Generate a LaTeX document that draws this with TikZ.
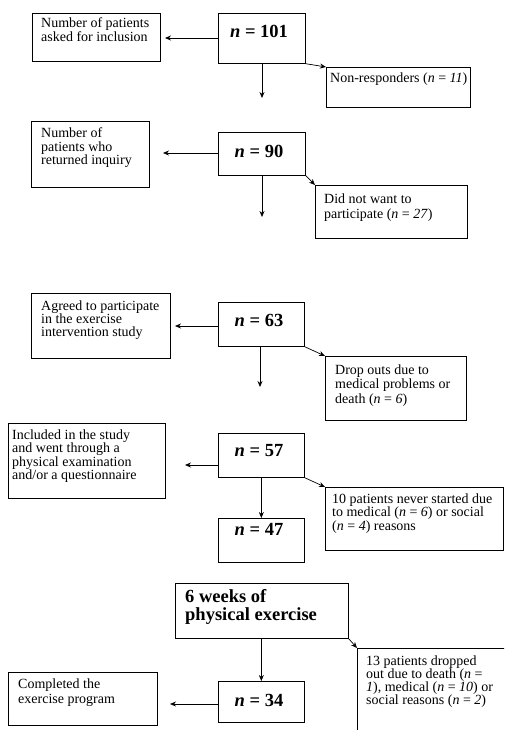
\documentclass[tikz,border=0pt]{standalone}
\usepackage{fontspec}
\setmainfont{Liberation Serif}
\usetikzlibrary{arrows.meta}
% lines of a box text, set with a fixed distance between baselines
\newcommand\stacklines[2][13.5pt]{\vtop{\baselineskip=#1\lineskiplimit=-\maxdimen\halign{##\hfil\cr#2\crcr}}}

\begin{document}
\begin{tikzpicture}[x=1pt,y=-1pt,
  panel/.style={draw=black, line width=0.7pt, inner sep=0pt, anchor=north west},
  txt/.style={inner sep=0pt, anchor=base west, font=\fontsize{14}{14}\selectfont},
  num/.style={inner sep=0pt, anchor=base, font=\fontsize{18.5}{18.5}\selectfont\bfseries},
  link/.style={line width=0.7pt, -{Stealth[length=6pt,width=5pt]}}]
\clip (0,0) rectangle (504,730);
\fill[white] (0,0) rectangle (504,730);

% ---- step 1
\node[panel, minimum width=128pt, minimum height=48pt] (ask) at (32,13) {};
\node[txt] (ask-t) at (41,28) {\stacklines{Number of patients\cr asked for inclusion}};
\node[panel, minimum width=87pt, minimum height=50pt] (n101) at (218,13) {};
\node[num] (n101-t) at (259,38) {\textit{n} = 101};
\node[panel, minimum width=144pt, minimum height=40pt] (nonresp) at (326,67) {};
\node[txt] (nonresp-t) at (330,83) {Non-responders (\textit{n} = \textit{11})};
\coordinate (tip1) at (165,38);
\coordinate (down1) at (262,98);
\draw[link] (n101.west |- tip1) -- (tip1);
\draw[link] (n101.south -| down1) -- (down1);
\draw[link] (n101.south east) -- (nonresp.north west);

% ---- step 2
\node[panel, minimum width=118pt, minimum height=66pt] (returned) at (31,121) {};
\node[txt] (returned-t) at (41,138) {\stacklines{Number of\cr patients who\cr returned inquiry}};
\node[panel, minimum width=87pt, minimum height=43pt] (n90) at (218,132) {};
\node[num] (n90-t) at (259,158) {\textit{n} = 90};
\node[panel, minimum width=152pt, minimum height=53pt] (didnot) at (315,185) {};
\node[txt] (didnot-t) at (324,203) {\stacklines[15pt]{Did not want to\cr participate (\textit{n} = \textit{27})}};
\coordinate (tip2) at (163,153);
\coordinate (down2) at (262,217);
\draw[link] (n90.west |- tip2) -- (tip2);
\draw[link] (n90.south -| down2) -- (down2);
\draw[link] (n90.south east) -- (didnot.north west);

% ---- step 3
\node[panel, minimum width=139pt, minimum height=65pt] (agreed) at (31,293) {};
\node[txt] (agreed-t) at (41,310) {\stacklines[13pt]{Agreed to participate\cr in the exercise\cr intervention study}};
\node[panel, minimum width=86pt, minimum height=44pt] (n63) at (218,302) {};
\node[num] (n63-t) at (259,326) {\textit{n} = 63};
\node[panel, minimum width=141pt, minimum height=64pt] (dropouts) at (325,356) {};
\node[txt] (dropouts-t) at (335,374) {\stacklines[14.5pt]{Drop outs due to\cr medical problems or\cr death (\textit{n} = \textit{6})}};
\coordinate (tip3) at (175,326);
\coordinate (down3) at (260,387);
\draw[link] (n63.west |- tip3) -- (tip3);
\draw[link] (n63.south -| down3) -- (down3);
\draw[link] (n63.south east) -- (dropouts.north west);

% ---- step 4
\node[panel, minimum width=157pt, minimum height=75pt] (included) at (8,423) {};
\node[txt] (included-t) at (12,439) {\stacklines{Included in the study\cr and went through a\cr physical examination\cr and/or a questionnaire}};
\node[panel, minimum width=86pt, minimum height=44pt] (n57) at (218,433) {};
\node[num] (n57-t) at (259,456) {\textit{n} = 57};
\node[panel, minimum width=178pt, minimum height=63pt] (tenpat) at (325,487) {};
\node[txt] (tenpat-t) at (332,503) {\stacklines{10 patients never started due\cr to medical (\textit{n} = \textit{6}) or social\cr (\textit{n} = \textit{4}) reasons}};
\node[panel, minimum width=86pt, minimum height=44pt] (n47) at (218,518) {};
\node[num] (n47-t) at (259,535) {\textit{n} = 47};
\coordinate (tip4) at (185,465);
\draw[link] (n57.west |- tip4) -- (tip4);
\draw[link] (n57.south) -- (n47.north);
\draw[link] (n57.south east) -- (tenpat.north west);

% ---- exercise period
\node[panel, minimum width=173pt, minimum height=55pt] (weeks) at (175,583) {};
\node[num, anchor=base west] (weeks-t) at (185,602) {\stacklines[18pt]{6 weeks of\cr physical exercise}};
\node[panel, minimum width=163pt, minimum height=112pt] (thirteen) at (357,648) {};
\node[txt] (thirteen-t) at (366,665) {\stacklines[13.3pt]{13 patients dropped\cr out due to death (\textit{n} =\cr \textit{1}), medical (\textit{n} = \textit{10}) or\cr social reasons (\textit{n} = \textit{2})}};
\node[panel, minimum width=86pt, minimum height=41pt] (n34) at (218,681) {};
\node[num] (n34-t) at (259,706) {\textit{n} = 34};
\node[panel, minimum width=149pt, minimum height=53pt] (completed) at (8,672) {};
\node[txt] (completed-t) at (18,688) {\stacklines[15pt]{Completed the\cr exercise program}};
\coordinate (tip6) at (170,704);
\draw[link] (weeks.south -| n34.north) -- (n34.north);
\draw[link] (weeks.south east) -- (thirteen.north west);
\draw[link] (n34.west |- tip6) -- (tip6);
\end{tikzpicture}
\end{document}
